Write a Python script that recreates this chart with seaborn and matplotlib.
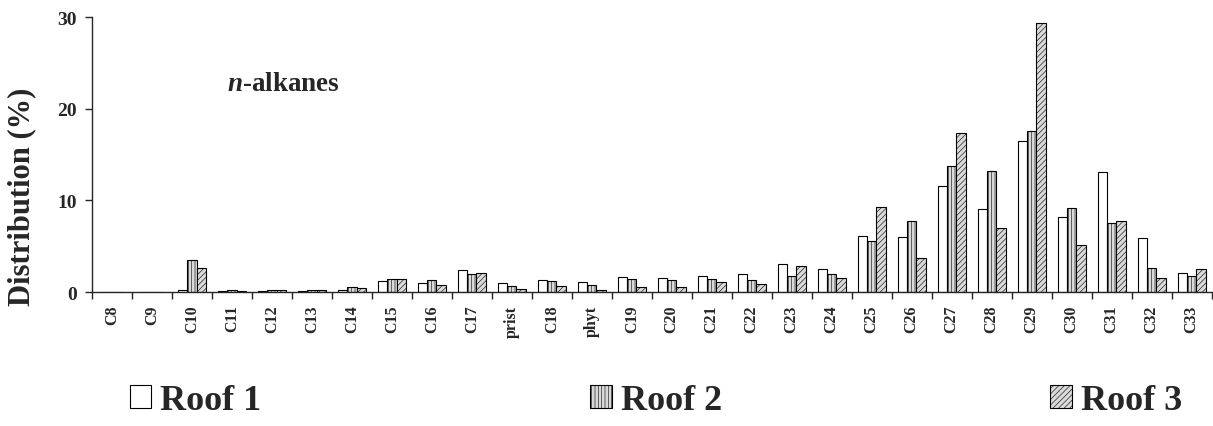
import numpy as np
import pandas as pd
import seaborn as sns
import matplotlib.pyplot as plt

compounds = ['C8', 'C9', 'C10', 'C11', 'C12', 'C13', 'C14', 'C15', 'C16', 'C17',
             'prist', 'C18', 'phyt', 'C19', 'C20', 'C21', 'C22', 'C23', 'C24',
             'C25', 'C26', 'C27', 'C28', 'C29', 'C30', 'C31', 'C32', 'C33']
roof1 = [0, 0, 0.2, 0.1, 0.1, 0.1, 0.2, 1.2, 1.0, 2.4,
         0.95, 1.3, 1.1, 1.65, 1.55, 1.75, 1.95, 3.1, 2.55,
         6.1, 6.0, 11.6, 9.1, 16.5, 8.2, 13.1, 5.9, 2.05]
roof2 = [0, 0, 3.5, 0.2, 0.2, 0.2, 0.55, 1.4, 1.3, 1.95,
         0.65, 1.2, 0.75, 1.45, 1.3, 1.45, 1.3, 1.8, 1.95,
         5.55, 7.7, 13.7, 13.2, 17.6, 9.2, 7.5, 2.65, 1.7]
roof3 = [0, 0, 2.6, 0.1, 0.2, 0.2, 0.45, 1.4, 0.75, 2.05,
         0.35, 0.65, 0.25, 0.55, 0.55, 1.1, 0.85, 2.85, 1.55,
         9.3, 3.75, 17.3, 7.0, 29.3, 5.1, 7.8, 1.55, 2.55]
series = ['Roof 1', 'Roof 2', 'Roof 3']

df = pd.DataFrame({
    'compound': compounds * 3,
    'value': roof1 + roof2 + roof3,
    'roof': np.repeat(series, len(compounds)),
})

sns.set_style('ticks')
plt.rcParams['font.family'] = ['Liberation Serif', 'DejaVu Serif']
plt.rcParams['font.weight'] = 'bold'
plt.rcParams['hatch.linewidth'] = 0.4
plt.rcParams['mathtext.fontset'] = 'custom'
plt.rcParams['mathtext.it'] = 'Liberation Serif:italic:bold'

fig = plt.figure(figsize=(12.13, 4.27), dpi=100)
ax = fig.add_axes([0.0758, 0.3138, 0.923, 0.644])

sns.barplot(data=df, x='compound', y='value', hue='roof', order=compounds,
            hue_order=series, width=0.7, ax=ax, legend=False)

# white / vertical stripes / diagonal stripes
styles = [('white', ''), ('#d9d9d9', '|||||'), ('#d9d9d9', '//////')]
for cont, (fc, hatch) in zip(ax.containers, styles):
    for bar in cont.patches:
        bar.set_facecolor(fc)
        bar.set_edgecolor('black')
        bar.set_linewidth(0.8)
        bar.set_hatch(hatch)

ax.set_xlim(-0.5, len(compounds) - 0.5)
ax.set_ylim(0, 30)
ax.set_yticks([0, 10, 20, 30])
ax.set_xticks(np.arange(len(compounds) + 1) - 0.5, minor=True)
ax.tick_params(axis='x', which='major', length=0, pad=9, labelsize=11.5, labelrotation=90)
ax.tick_params(axis='x', which='minor', length=5, width=1)
ax.tick_params(axis='y', length=5, width=1, labelsize=14, pad=6)
for lab in ax.get_xticklabels() + ax.get_yticklabels():
    lab.set_fontweight('bold')
sns.despine(ax=ax)
for sp in ['left', 'bottom']:
    ax.spines[sp].set_linewidth(1)

ax.set_xlabel('')
ax.set_ylabel('Distribution (%)', fontsize=22, fontweight='bold')
ax.yaxis.set_label_coords(-0.05, 0.35)

ax.text(0.121, 22.7, r'$\mathit{n}$-alkanes', transform=ax.get_yaxis_transform(),
        fontsize=19.5, fontweight='bold', va='center', ha='left')

fig.legend(ax.containers, series, loc='center left', bbox_to_anchor=(0.08, 0.06),
           ncol=3, frameon=False, handlelength=0.6, handleheight=0.6,
           handletextpad=0.25, columnspacing=9.1,
           prop={'size': 26, 'weight': 'bold'})

fig.savefig('out.png', dpi=100)
